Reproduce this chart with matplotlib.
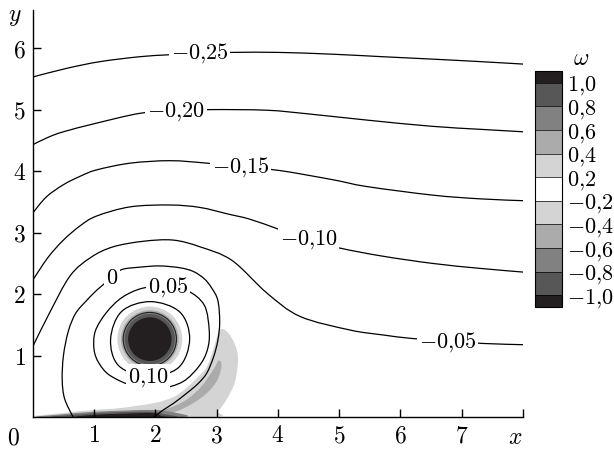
import numpy as np
import matplotlib.pyplot as plt
from matplotlib.path import Path
from matplotlib.patches import PathPatch, Circle
from matplotlib.colors import ListedColormap, BoundaryNorm
from matplotlib.cm import ScalarMappable

plt.rcParams['mathtext.fontset'] = 'cm'
plt.rcParams['font.family'] = ['DejaVu Serif']

# stream function levels and the lines
psi_levels = [-0.25, -0.20, -0.15, -0.10, -0.05, 0.0, 0.05, 0.10]

m25_x = [0.0, 0.55, 1.10, 1.75, 2.20, 2.70, 3.29, 4.00, 4.90, 5.70, 6.53, 7.30, 8.00]
m25_y = [5.53, 5.67, 5.78, 5.86, 5.89, 5.92, 5.93, 5.93, 5.90, 5.86, 5.82, 5.78, 5.74]

m20_x = [0.0, 0.25, 0.50, 1.04, 1.75, 2.30, 2.89, 3.82, 4.50, 5.45, 6.50, 7.30, 8.00]
m20_y = [4.43, 4.55, 4.64, 4.78, 4.94, 4.98, 5.00, 4.99, 4.93, 4.83, 4.73, 4.68, 4.64]

m15_x = [0.0, 0.22, 0.50, 0.78, 1.04, 1.59, 2.24, 2.84, 3.40, 4.03, 4.90, 5.45, 6.53, 7.30, 8.00]
m15_y = [3.32, 3.58, 3.78, 3.92, 4.02, 4.13, 4.17, 4.13, 4.07, 4.01, 3.86, 3.75, 3.61, 3.55, 3.52]

m10_x = [0.0, 0.25, 0.50, 0.77, 1.04, 1.59, 2.24, 2.73, 3.20, 3.54, 4.03, 4.50, 5.01, 5.70, 6.53, 7.30, 8.00]
m10_y = [2.23, 2.60, 2.88, 3.11, 3.27, 3.42, 3.45, 3.41, 3.30, 3.22, 3.05, 2.88, 2.75, 2.62, 2.50, 2.42, 2.36]

m05_x = [0.0, 0.27, 0.61, 0.95, 1.31, 1.80, 2.29, 2.73, 3.25, 3.82, 4.36, 5.17, 5.70, 6.20, 6.78, 7.35, 8.00]
m05_y = [1.15, 1.69, 2.30, 2.60, 2.77, 2.86, 2.88, 2.77, 2.55, 2.02, 1.64, 1.42, 1.34, 1.28, 1.24, 1.20, 1.18]

z00_x = [0.66, 0.52, 0.48, 0.50, 0.58, 0.70, 0.88, 1.06, 1.29, 1.45, 1.75, 2.07, 2.40, 2.62,
         2.80, 2.92, 3.02, 3.05, 3.02, 2.95, 2.84, 2.70, 2.51, 2.30, 2.13, 1.97]
z00_y = [0.0, 0.30, 0.61, 1.00, 1.40, 1.69, 1.90, 2.08, 2.27, 2.40, 2.44, 2.46, 2.43, 2.37,
         2.25, 2.10, 1.90, 1.55, 1.25, 0.98, 0.72, 0.55, 0.39, 0.23, 0.12, 0.0]

p05_x = [2.88, 2.80, 2.52, 2.18, 1.80, 1.46, 1.20, 1.02, 1.00, 1.08, 1.26, 1.64, 2.07, 2.45, 2.72, 2.85]
p05_y = [1.40, 1.82, 2.06, 2.12, 2.10, 1.95, 1.70, 1.40, 1.10, 0.88, 0.68, 0.51, 0.47, 0.58, 0.84, 1.10]

p10_x = [2.56, 2.40, 1.92, 1.45, 1.27, 1.40, 1.88, 2.38]
p10_y = [1.27, 1.71, 1.88, 1.72, 1.27, 0.84, 0.66, 0.81]

label_x = [2.72, 2.33, 3.39, 4.50, 6.77, 1.29, 2.21, 1.88]
label_y = [5.92, 4.96, 4.07, 2.88, 1.23, 2.27, 2.11, 0.65]

# vorticity: colour bands and regions
omega_bounds = [-1.0, -0.8, -0.6, -0.4, -0.2, 0.2, 0.4, 0.6, 0.8, 1.0]
omega_greys = ['#575757', '#818181', '#ababab', '#d4d4d4', '#ffffff',
               '#d4d4d4', '#ababab', '#818181', '#575757']
omega_end = '#231f20'

vortex_cx, vortex_cy = 1.91, 1.27
vortex_r = [0.53, 0.47, 0.44, 0.41, 0.355]
vortex_w = [0.3, 0.5, 0.7, 0.9, 1.1]

blob_x = [0.10, 0.50, 1.00, 1.42, 1.97, 2.30, 2.51, 2.70, 2.84, 2.95, 3.05, 3.18, 3.30, 3.35, 3.30, 3.17, 3.02, 2.85]
blob_y = [0.00, 0.07, 0.12, 0.15, 0.23, 0.33, 0.48, 0.66, 0.82, 1.12, 1.42, 1.38, 1.18, 0.95, 0.58, 0.30, 0.10, 0.00]
blob_w = -0.3

sliver_x = [1.90, 2.20, 2.50, 2.75, 2.95, 3.03, 3.08, 3.02, 2.85, 2.60, 2.35, 2.10, 1.90]
sliver_y = [0.08, 0.14, 0.28, 0.50, 0.78, 0.92, 0.85, 0.62, 0.40, 0.22, 0.10, 0.04, 0.03]
sliver_w = -0.5

wall1_x = [0.15, 0.50, 1.00, 1.50, 1.95, 2.25, 2.40]
wall1_y = [0.00, 0.05, 0.09, 0.11, 0.12, 0.09, 0.00]
wall1_w = -0.7

wall2_x = [0.35, 0.80, 1.30, 1.90, 2.15, 2.25]
wall2_y = [0.00, 0.05, 0.08, 0.09, 0.05, 0.00]
wall2_w = -0.9

wall3_x = [0.75, 1.00, 1.50, 1.95, 2.10, 2.12]
wall3_y = [0.00, 0.04, 0.06, 0.07, 0.02, 0.00]
wall3_w = -1.1

cmap = ListedColormap(omega_greys)
cmap.set_under(omega_end)
cmap.set_over(omega_end)
norm = BoundaryNorm(omega_bounds, cmap.N)


def smooth(xs, ys, closed=False):
    # Catmull-Rom through the read points, drawn as cubic Bezier
    p = np.column_stack([xs, ys])
    n = len(p)
    idx = list(range(n)) + ([0] if closed else [])
    verts = [p[idx[0]]]
    codes = [Path.MOVETO]
    for k in range(len(idx) - 1):
        if k > 0:
            i0 = idx[k - 1]
        else:
            i0 = n - 1 if closed else idx[0]
        i1, i2 = idx[k], idx[k + 1]
        if k + 2 < len(idx):
            i3 = idx[k + 2]
        else:
            i3 = idx[1] if closed else i2
        c1 = p[i1] + (p[i2] - p[i0]) / 6.0
        c2 = p[i2] - (p[i3] - p[i1]) / 6.0
        verts += [c1, c2, p[i2]]
        codes += [Path.CURVE4] * 3
    return Path(verts, codes)


fig = plt.figure(figsize=(6.14, 4.51), dpi=100)
ax = fig.add_axes([0.0534, 0.0747, 0.7984, 0.9033])

# vorticity shading
for xs, ys, w in [(blob_x, blob_y, blob_w), (sliver_x, sliver_y, sliver_w),
                  (wall1_x, wall1_y, wall1_w), (wall2_x, wall2_y, wall2_w),
                  (wall3_x, wall3_y, wall3_w)]:
    ax.add_patch(PathPatch(smooth(xs, ys, closed=True), facecolor=cmap(norm(w)),
                           edgecolor='none', zorder=1))
for r, w in zip(vortex_r, vortex_w):
    ax.add_patch(Circle((vortex_cx, vortex_cy), r, facecolor=cmap(norm(w)),
                        edgecolor='none', zorder=1))
ax.add_patch(Circle((vortex_cx, vortex_cy), 0.435, fill=False, edgecolor='#222222',
                    lw=0.8, zorder=2))

# streamlines
lines = [(m25_x, m25_y, False), (m20_x, m20_y, False), (m15_x, m15_y, False),
         (m10_x, m10_y, False), (m05_x, m05_y, False), (z00_x, z00_y, False),
         (p05_x, p05_y, True), (p10_x, p10_y, True)]
for xs, ys, cl in lines:
    ax.add_patch(PathPatch(smooth(xs, ys, closed=cl), facecolor='none',
                           edgecolor='black', lw=0.9, zorder=3))

for lev, lx, ly in zip(psi_levels, label_x, label_y):
    s = ('%.2f' % lev).replace('.', '{,}') if lev != 0 else '0'
    ax.text(lx, ly, '$' + s + '$', ha='center', va='center', fontsize=16, zorder=4,
            bbox=dict(facecolor='white', edgecolor='none', pad=1.5))

ax.set_xlim(0, 8)
ax.set_ylim(0, 6.62)
for side in ['top', 'right']:
    ax.spines[side].set_visible(False)
for side in ['left', 'bottom']:
    ax.spines[side].set_linewidth(1.0)
ax.set_xticks(range(1, 9))
ax.set_xticklabels(['$%d$' % i for i in range(1, 8)] + [''])
ax.set_yticks(range(1, 7))
ax.set_yticklabels(['$%d$' % i for i in range(1, 7)])
ax.tick_params(direction='in', length=6, width=1.0, labelsize=17, pad=5)
ax.text(7.87, -0.33, '$x$', ha='center', va='center', fontsize=17)
ax.text(-0.31, -0.33, '$0$', ha='center', va='center', fontsize=17)
ax.text(-0.29, 6.52, '$y$', ha='center', va='center', fontsize=17)

# colour bar
cax = fig.add_axes([0.872, 0.3186, 0.044, 0.5246])
sm = ScalarMappable(norm=norm, cmap=cmap)
cb = fig.colorbar(sm, cax=cax, extend='both', extendrect=True, extendfrac=0.057,
                  ticks=omega_bounds, drawedges=True)
cb.outline.set_linewidth(0.8)
cb.dividers.set_linewidth(0.5)
cb.ax.tick_params(length=0, labelsize=16, pad=3)
cb.ax.set_yticklabels(['$' + ('%.1f' % b).replace('.', '{,}') + '$' for b in omega_bounds])
fig.text(0.947, 0.871, r'$\omega$', ha='center', va='center', fontsize=17)

fig.savefig('out.png', dpi=100)
